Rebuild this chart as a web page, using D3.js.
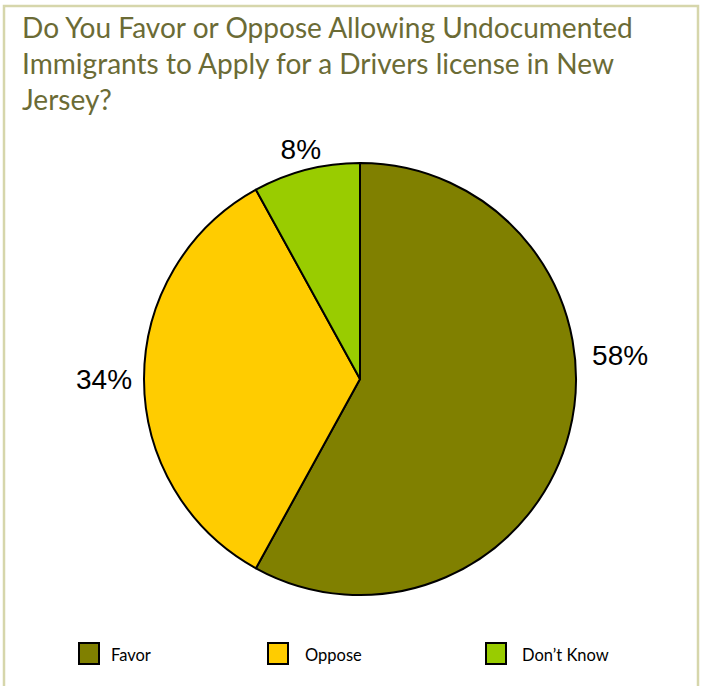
<!DOCTYPE html>
<html>
<head>
<meta charset="utf-8">
<script src="https://cdn.jsdelivr.net/npm/d3@7"></script>
<style>
  html, body { margin: 0; padding: 0; background: #ffffff; }
  svg { display: block; }
</style>
</head>
<body>
<script>
// Survey responses
const categories = ["Favor", "Oppose", "Don\u2019t Know"];
const values = [58, 34, 8];
const valueLabels = ["58%", "34%", "8%"];
const colors = ["#808000", "#ffcc00", "#99cc00"];
const titleLines = [
  "Do You Favor or Oppose Allowing Undocumented",
  "Immigrants to Apply for a Drivers license in New",
  "Jersey?"
];

const W = 702, H = 686;
const svg = d3.select("body").append("svg")
  .attr("width", W).attr("height", H);

// Frame
svg.append("rect")
  .attr("x", 4).attr("y", 6)
  .attr("width", 694).attr("height", 700)
  .attr("fill", "#ffffff")
  .attr("stroke", "#d6d6ab")
  .attr("stroke-width", 2.5);

// Title
const titleFont = "Lato, 'Open Sans', sans-serif";
const title = svg.append("g");
titleLines.forEach((line, i) => {
  title.append("text")
    .attr("x", 22)
    .attr("y", 38 + i * 36)
    .attr("fill", "#6b6b35")
    .attr("font-family", titleFont)
    .attr("font-size", 26)
    .text(line);
});
// Size the title so the longest line spans the text block width
const first = title.select("text").node();
const w0 = first.getComputedTextLength();
const fs = 26 * 611 / w0;
title.selectAll("text").attr("font-size", fs);

// Pie
const cx = 360, cy = 379, r = 216;
const pie = d3.pie().sort(null).value(d => d)(values);
const arc = d3.arc().innerRadius(0).outerRadius(r);

const g = svg.append("g").attr("transform", `translate(${cx},${cy})`);
g.selectAll("path.slice")
  .data(pie)
  .join("path")
  .attr("class", "slice")
  .attr("d", arc)
  .attr("fill", (d, i) => colors[i])
  .attr("stroke", "#000000")
  .attr("stroke-width", 2)
  .attr("stroke-linejoin", "round");

// Value labels outside the pie: radial distance from the centre and
// a nudge so the large slice's label sits beside the rim
const labelRadius = [250, 256, 238];
const labelNudge = [[18, -86], [0, 0], [0, 0]];
function labelPos(d, i) {
  const a = (d.startAngle + d.endAngle) / 2;
  return [
    Math.sin(a) * labelRadius[i] + labelNudge[i][0],
    -Math.cos(a) * labelRadius[i] + labelNudge[i][1]
  ];
}
g.selectAll("text.val")
  .data(pie)
  .join("text")
  .attr("class", "val")
  .attr("x", (d, i) => labelPos(d, i)[0])
  .attr("y", (d, i) => labelPos(d, i)[1])
  .attr("dy", "0.36em")
  .attr("text-anchor", "middle")
  .attr("font-family", "'Liberation Sans', Arial, sans-serif")
  .attr("font-size", 28)
  .attr("fill", "#000000")
  .text((d, i) => valueLabels[i]);

// Legend
const legendX = [79, 268, 486];
const legendTextX = [111, 305, 522];
const legend = svg.append("g");
categories.forEach((c, i) => {
  legend.append("rect")
    .attr("x", legendX[i]).attr("y", 643)
    .attr("width", 20).attr("height", 21)
    .attr("fill", colors[i])
    .attr("stroke", "#000000")
    .attr("stroke-width", 2);
  legend.append("text")
    .attr("x", legendTextX[i])
    .attr("y", 661)
    .attr("font-family", titleFont)
    .attr("font-size", 16.5)
    .attr("fill", "#000000")
    .text(c);
});
</script>
</body>
</html>
